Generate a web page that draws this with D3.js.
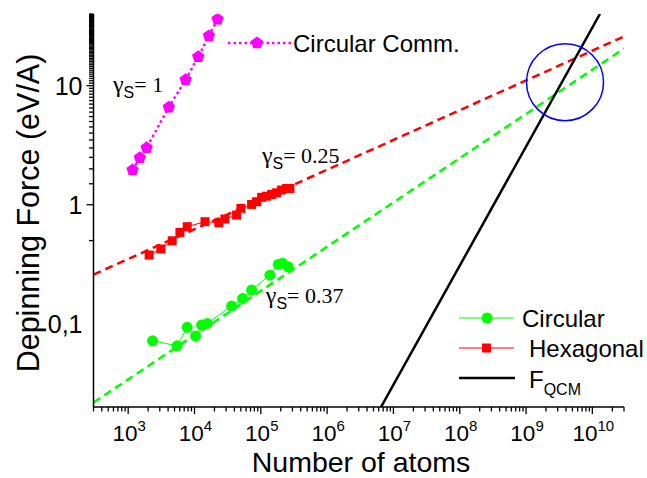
<!DOCTYPE html>
<html>
<head>
<meta charset="utf-8">
<script src="https://cdn.jsdelivr.net/npm/d3@7"></script>
<style>
  body { margin: 0; background: #fff; }
  text { font-family: "Liberation Sans", Arial, sans-serif; }
</style>
</head>
<body>
<div id="chart"></div>
<script>
// Circular (green circles)
var circN = [2330, 5480, 7760, 10400, 12800, 15600, 36300, 53200, 72700, 137000, 183000, 213000, 259000];
var circF = [0.072, 0.0653, 0.0933, 0.0789, 0.0975, 0.1007, 0.141, 0.163, 0.192, 0.256, 0.315, 0.322, 0.301];

// Hexagonal (red squares)
var hexN = [2070, 3110, 4610, 6030, 7770, 14400, 23300, 28700, 43100, 50100, 72700, 86400, 103000, 122000, 146000, 173000, 206000, 245000, 275000];
var hexF = [0.378, 0.425, 0.498, 0.586, 0.654, 0.72, 0.706, 0.759, 0.819, 0.933, 1.006, 1.059, 1.154, 1.18, 1.22, 1.26, 1.33, 1.37, 1.37];

// Circular Comm. (magenta pentagons)
var commN = [1165, 1500, 1900, 4100, 7350, 11400, 16500, 22300];
var commF = [1.96, 2.48, 3.01, 6.58, 11.2, 17.5, 26.2, 36.1];

// fit lines (end points)
var hexFitN = [300, 3e10], hexFitF = [0.259, 25.9];
var circFitN = [300, 3e10], circFitF = [0.0218, 20.5];
var qcmN = [6.5e6, 1.3e10], qcmF = [0.02, 40];

// highlighted crossing
var ringN = 3.87e9, ringF = 10.7;

var xMajor = [3, 4, 5, 6, 7, 8, 9, 10];
var yMajor = [0.1, 1, 10];
var yMajorLabels = ["0,1", "1", "10"];

var gammaLabels = [
  {n: 590, f: 8.85, text: "= 1"},
  {n: 104000, f: 2.24, text: "= 0.25"},
  {n: 119000, f: 0.149, text: "= 0.37"}
];

var width = 647, height = 478;
var margin = {top: 14, right: 23, bottom: 71, left: 93.5};

var svg = d3.select("#chart").append("svg")
    .attr("width", width)
    .attr("height", height);

var x = d3.scaleLog().domain([300, 3e10]).range([margin.left, width - margin.right]);
var y = d3.scaleLog().domain([0.02, 40]).range([height - margin.bottom, margin.top]);

var x0 = x.range()[0], x1 = x.range()[1], y0 = y.range()[0], y1 = y.range()[1];

svg.append("clipPath").attr("id", "clip")
  .append("rect").attr("x", x0).attr("y", y1).attr("width", x1 - x0).attr("height", y0 - y1);

var plot = svg.append("g").attr("clip-path", "url(#clip)");

function pairs(ns, fs) { return ns.map(function(n, i) { return [n, fs[i]]; }); }
var line = d3.line().x(function(d) { return x(d[0]); }).y(function(d) { return y(d[1]); });

// fit lines
plot.append("path").attr("d", line(pairs(hexFitN, hexFitF)))
    .attr("fill", "none").attr("stroke", "#ff0000").attr("stroke-width", 2.5).attr("stroke-dasharray", "8,5");
plot.append("path").attr("d", line(pairs(circFitN, circFitF)))
    .attr("fill", "none").attr("stroke", "#00ff00").attr("stroke-width", 2.5).attr("stroke-dasharray", "8,5");
plot.append("path").attr("d", line(pairs(qcmN, qcmF)))
    .attr("fill", "none").attr("stroke", "#000").attr("stroke-width", 2.5);

// data lines
plot.append("path").attr("d", line(pairs(circN, circF)))
    .attr("fill", "none").attr("stroke", "#00ff00").attr("stroke-width", 1);
plot.append("path").attr("d", line(pairs(hexN, hexF)))
    .attr("fill", "none").attr("stroke", "#ff0000").attr("stroke-width", 1);
plot.append("path").attr("d", line(pairs(commN, commF)))
    .attr("fill", "none").attr("stroke", "#ff00ff").attr("stroke-width", 2.5).attr("stroke-dasharray", "2.5,3");

function pentagon(r) {
  var p = [];
  for (var i = 0; i < 5; i++) {
    var a = -Math.PI / 2 + i * 2 * Math.PI / 5;
    p.push([r * Math.cos(a), r * Math.sin(a)]);
  }
  return "M" + p.join("L") + "Z";
}

// markers
plot.selectAll(".circ").data(pairs(circN, circF)).enter().append("circle")
    .attr("cx", function(d) { return x(d[0]); })
    .attr("cy", function(d) { return y(d[1]); })
    .attr("r", 5.5).attr("fill", "#00ff00");
plot.selectAll(".hex").data(pairs(hexN, hexF)).enter().append("rect")
    .attr("x", function(d) { return x(d[0]) - 4.5; })
    .attr("y", function(d) { return y(d[1]) - 4.5; })
    .attr("width", 9).attr("height", 9).attr("fill", "#ff0000");
plot.selectAll(".comm").data(pairs(commN, commF)).enter().append("path")
    .attr("transform", function(d) { return "translate(" + x(d[0]) + "," + y(d[1]) + ")"; })
    .attr("d", pentagon(6.5)).attr("fill", "#ff00ff");

// ring
plot.append("circle").attr("cx", x(ringN)).attr("cy", y(ringF)).attr("r", 38.5)
    .attr("fill", "none").attr("stroke", "#0000ff").attr("stroke-width", 1.5);

// axes
var gx = svg.append("g").attr("transform", "translate(0," + y0 + ")");
gx.append("line").attr("x1", x0).attr("x2", x1).attr("stroke", "#000").attr("stroke-width", 1.5);
var xTicks = x.ticks(80).filter(function(v) { return v >= 300 && v <= 3e10; });
gx.selectAll(".xt").data(xTicks).enter().append("line")
    .attr("x1", function(d) { return x(d); }).attr("x2", function(d) { return x(d); })
    .attr("y1", 0)
    .attr("y2", function(d) { return Math.abs(Math.log10(d) - Math.round(Math.log10(d))) < 1e-6 ? 7 : 4.5; })
    .attr("stroke", "#000").attr("stroke-width", 1.3);
var xl = gx.selectAll(".xl").data(xMajor).enter().append("text")
    .attr("x", function(d) { return x(Math.pow(10, d)) + 1; })
    .attr("y", 34).attr("text-anchor", "middle").attr("font-size", 22.5);
xl.append("tspan").text("10");
xl.append("tspan").attr("font-size", 15).attr("dy", -10).text(function(d) { return d; });

var gy = svg.append("g").attr("transform", "translate(" + x0 + ",0)");
gy.append("line").attr("y1", y0).attr("y2", y1).attr("stroke", "#000").attr("stroke-width", 1.5);
var yTicks = y.ticks(80).filter(function(v) { return v >= 0.0199 && v <= 40.01; });
gy.selectAll(".yt").data(yTicks).enter().append("line")
    .attr("y1", function(d) { return y(d); }).attr("y2", function(d) { return y(d); })
    .attr("x1", 0)
    .attr("x2", function(d) { return Math.abs(Math.log10(d) - Math.round(Math.log10(d))) < 1e-6 ? -7 : -4.5; })
    .attr("stroke", "#000").attr("stroke-width", 1.3);
gy.selectAll(".yl").data(yMajor).enter().append("text")
    .attr("x", -11).attr("y", function(d) { return y(d) + 9; })
    .attr("text-anchor", "end").attr("font-size", 25)
    .text(function(d, i) { return yMajorLabels[i]; });

// axis titles
svg.append("text").attr("x", 361).attr("y", 472)
    .attr("text-anchor", "middle").attr("font-size", 28.5).text("Number of atoms");
svg.append("text").attr("transform", "translate(39," + 213 + ") rotate(-90)")
    .attr("text-anchor", "middle").attr("font-size", 30.5).text("Depinning Force (eV/A)");

// gamma labels
gammaLabels.forEach(function(g) {
  var t = svg.append("text").attr("x", x(g.n)).attr("y", y(g.f))
      .attr("font-family", "Liberation Serif, Times New Roman, serif").attr("font-size", 24);
  t.append("tspan").attr("font-family", "Liberation Serif, Times New Roman, serif").text("\u03b3");
  t.append("tspan").attr("font-family", "Liberation Sans, Arial, sans-serif").attr("font-size", 16).attr("dy", 6).text("S");
  t.append("tspan").attr("font-family", "Liberation Serif, Times New Roman, serif").attr("font-size", 22).attr("dy", -6).text(g.text);
});

// Circular Comm. label
svg.append("line").attr("x1", 228).attr("x2", 291).attr("y1", 43).attr("y2", 43)
    .attr("stroke", "#ff00ff").attr("stroke-width", 2.5).attr("stroke-dasharray", "2.5,3");
svg.append("path").attr("transform", "translate(257,43)").attr("d", pentagon(6.5)).attr("fill", "#ff00ff");
svg.append("text").attr("x", 293).attr("y", 52).attr("font-size", 24).text("Circular Comm.");

// legend
var lg = svg.append("g");
lg.append("line").attr("x1", 459).attr("x2", 514).attr("y1", 318).attr("y2", 318).attr("stroke", "#00ff00").attr("stroke-width", 1);
lg.append("circle").attr("cx", 487).attr("cy", 318).attr("r", 5.5).attr("fill", "#00ff00");
lg.append("text").attr("x", 522).attr("y", 327).attr("font-size", 24).text("Circular");
lg.append("line").attr("x1", 459).attr("x2", 514).attr("y1", 348).attr("y2", 348).attr("stroke", "#ff0000").attr("stroke-width", 1);
lg.append("rect").attr("x", 482).attr("y", 343.5).attr("width", 9).attr("height", 9).attr("fill", "#ff0000");
lg.append("text").attr("x", 529).attr("y", 357).attr("font-size", 24).text("Hexagonal");
lg.append("line").attr("x1", 459).attr("x2", 515).attr("y1", 378).attr("y2", 378).attr("stroke", "#000").attr("stroke-width", 2.5);
var fq = lg.append("text").attr("x", 529).attr("y", 388).attr("font-size", 24);
fq.append("tspan").text("F");
fq.append("tspan").attr("font-size", 16).attr("dy", 7).text("QCM");
</script>
</body>
</html>
